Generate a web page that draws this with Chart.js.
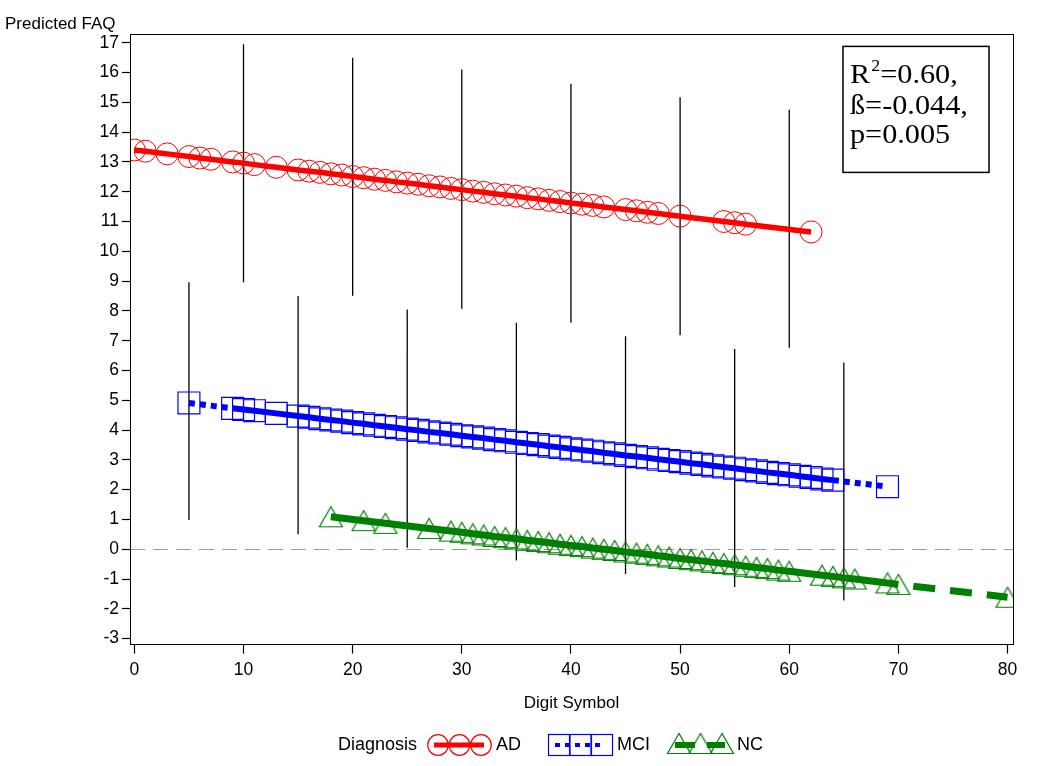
<!DOCTYPE html>
<html>
<head>
<meta charset="utf-8">
<title>Predicted FAQ</title>
<script src="https://cdn.jsdelivr.net/npm/chart.js@4.4.0/dist/chart.umd.min.js"></script>
<style>
  html, body { margin: 0; padding: 0; background: #fff; }
</style>
</head>
<body>
<canvas id="grafico" width="1050" height="766"></canvas>
<script>
// ticks
const ejeX = [0, 10, 20, 30, 40, 50, 60, 70, 80];
const ejeY = [-3, -2, -1, 0, 1, 2, 3, 4, 5, 6, 7, 8, 9, 10, 11, 12, 13, 14, 15, 16, 17];

// AD
const adX = [0, 1, 3, 5, 6, 7, 9, 10, 11, 13, 15, 16, 17, 18, 19, 20, 21, 22, 23, 24, 25, 26, 27, 28, 29, 30,
  31, 32, 33, 34, 35, 36, 37, 38, 39, 40, 41, 42, 43, 45, 46, 47, 48, 50, 54, 55, 56, 62];
const adY = [13.40, 13.36, 13.27, 13.18, 13.13, 13.09, 13.00, 12.96, 12.91, 12.82, 12.73, 12.69, 12.65, 12.60,
  12.56, 12.51, 12.47, 12.42, 12.38, 12.33, 12.29, 12.25, 12.20, 12.16, 12.11, 12.07, 12.02, 11.98, 11.93,
  11.89, 11.85, 11.80, 11.76, 11.71, 11.67, 11.62, 11.58, 11.54, 11.49, 11.40, 11.36, 11.31, 11.27, 11.18,
  11.00, 10.96, 10.91, 10.65];

// MCI
const mciX = [5, 9, 10, 11, 13, 15, 16, 17, 18, 19, 20, 21, 22, 23, 24, 25, 26, 27, 28, 29, 30, 31, 32, 33,
  34, 35, 36, 37, 38, 39, 40, 41, 42, 43, 44, 45, 46, 47, 48, 49, 50, 51, 52, 53, 54, 55, 56, 57, 58, 59,
  60, 61, 62, 63, 64, 69];
const mciY = [4.91, 4.73, 4.69, 4.65, 4.56, 4.47, 4.43, 4.38, 4.34, 4.30, 4.25, 4.21, 4.16, 4.12, 4.08, 4.03,
  3.99, 3.94, 3.90, 3.86, 3.81, 3.77, 3.73, 3.68, 3.64, 3.59, 3.55, 3.51, 3.46, 3.42, 3.37, 3.33, 3.29, 3.24,
  3.20, 3.15, 3.11, 3.07, 3.02, 2.98, 2.94, 2.89, 2.85, 2.80, 2.76, 2.72, 2.67, 2.63, 2.58, 2.54, 2.50, 2.45,
  2.41, 2.36, 2.32, 2.10];

// NC
const ncX = [18, 21, 23, 27, 29, 30, 31, 32, 33, 34, 35, 36, 37, 38, 39, 40, 41, 42, 43, 44, 45, 46, 47, 48,
  49, 50, 51, 52, 53, 54, 55, 56, 57, 58, 59, 60, 63, 64, 65, 66, 69, 70, 80];
const ncY = [1.09, 0.96, 0.87, 0.70, 0.61, 0.57, 0.52, 0.48, 0.43, 0.39, 0.35, 0.30, 0.26, 0.22, 0.17, 0.13,
  0.09, 0.04, 0.00, -0.04, -0.09, -0.13, -0.17, -0.22, -0.26, -0.31, -0.35, -0.39, -0.44, -0.48, -0.52,
  -0.57, -0.61, -0.65, -0.70, -0.74, -0.87, -0.91, -0.96, -1.00, -1.13, -1.18, -1.61];

// barras verticales
const barraX = [10, 20, 30, 40, 50, 60, 5, 15, 25, 35, 45, 55, 65];
const barraMin = [8.96, 8.51, 8.07, 7.6, 7.18, 6.76, 0.98, 0.5, 0.05, -0.38, -0.83, -1.27, -1.72];
const barraMax = [16.95, 16.5, 16.1, 15.62, 15.17, 14.75, 8.96, 8.5, 8.05, 7.6, 7.15, 6.72, 6.27];

const estadisticos = ["=0.60,", "ß=-0.044,", "p=0.005"];

const ROJO = "#ff0000", AZUL = "#0000ff", VERDE = "#008000";
const letra = '"Liberation Sans", Arial, sans-serif';

function triangulo(color) {
	const c = document.createElement("canvas");
	c.width = 26; c.height = 23;
	const g = c.getContext("2d");
	g.strokeStyle = color;
	g.lineWidth = 1.2;
	g.beginPath();
	g.moveTo(13, 1.5);
	g.lineTo(1.5, 21.5);
	g.lineTo(24.5, 21.5);
	g.closePath();
	g.stroke();
	return c;
}
const trianguloVerde = triangulo(VERDE);

const puntos = (xs, ys) => xs.map((x, i) => ({ x: x, y: ys[i] }));

const barras = [];
barraX.forEach((x, i) => {
	barras.push({ x: x, y: barraMin[i] }, { x: x, y: barraMax[i] }, { x: x, y: null });
});

/* marco, linea del cero, recuadro y leyenda */
const extras = {
	id: "extras",
	beforeDatasetsDraw(chart) {
		const { ctx, chartArea, scales } = chart;
		const y0 = Math.round(scales.y.getPixelForValue(0)) + 0.5;
		ctx.save();
		ctx.strokeStyle = "#9a9a9a";
		ctx.lineWidth = 1;
		ctx.setLineDash([15, 8]);
		ctx.beginPath();
		ctx.moveTo(chartArea.left, y0);
		ctx.lineTo(chartArea.right, y0);
		ctx.stroke();
		ctx.restore();
	},
	afterDraw(chart) {
		const { ctx, chartArea } = chart;
		ctx.save();
		ctx.strokeStyle = "#000";
		ctx.lineWidth = 1;
		ctx.strokeRect(Math.round(chartArea.left) + 0.5, Math.round(chartArea.top) + 0.5,
			Math.round(chartArea.right - chartArea.left), Math.round(chartArea.bottom - chartArea.top));

		// recuadro estadisticos
		const bx = chartArea.right - 170, by = chartArea.top + 12;
		ctx.lineWidth = 1.5;
		ctx.strokeRect(bx, by, 146, 126);
		ctx.fillStyle = "#000";
		ctx.textBaseline = "alphabetic";
		ctx.save();
		ctx.translate(bx + 7, 0);
		ctx.scale(1.12, 1);
		ctx.font = '27px "Liberation Serif", "Times New Roman", serif';
		ctx.fillText("R", 0, by + 37);
		const wR = ctx.measureText("R").width;
		ctx.font = '16px "Liberation Serif", "Times New Roman", serif';
		ctx.fillText("2", wR + 1, by + 25);
		const w2 = ctx.measureText("2").width;
		ctx.font = '27px "Liberation Serif", "Times New Roman", serif';
		ctx.fillText(estadisticos[0], wR + w2 + 1, by + 37);
		ctx.fillText(estadisticos[1], 0, by + 68);
		ctx.fillText(estadisticos[2], 0, by + 97);
		ctx.restore();

		// leyenda
		const ly = 745;
		ctx.font = "18px " + letra;
		ctx.textBaseline = "middle";
		ctx.fillText("Diagnosis", 338, ly);
		const series = [
			{ x: 438, color: ROJO, ancho: 5, guion: [], marca: "circulo", texto: "AD" },
			{ x: 559, color: AZUL, ancho: 4, guion: [5, 5], marca: "cuadro", texto: "MCI" },
			{ x: 679, color: VERDE, ancho: 6, guion: [20, 12], marca: "triangulo", texto: "NC" }
		];
		series.forEach((s) => {
			ctx.save();
			ctx.strokeStyle = s.color;
			ctx.lineWidth = s.ancho;
			ctx.setLineDash(s.guion);
			ctx.beginPath();
			ctx.moveTo(s.x - 4, ly);
			ctx.lineTo(s.x + 46, ly);
			ctx.stroke();
			ctx.setLineDash([]);
			ctx.lineWidth = 1.2;
			for (let k = 0; k < 3; k++) {
				const cx = s.x + k * 21.5;
				ctx.beginPath();
				if (s.marca === "circulo") {
					ctx.arc(cx, ly, 10.3, 0, Math.PI * 2);
					ctx.stroke();
				} else if (s.marca === "cuadro") {
					ctx.strokeRect(cx - 10.5, ly - 10.5, 21, 21);
				} else {
					ctx.drawImage(trianguloVerde, cx - 13, ly - 13);
				}
			}
			ctx.restore();
			ctx.fillStyle = "#000";
			ctx.fillText(s.texto, s.x + 58, ly);
		});
		ctx.restore();
	}
};

const ctx = document.getElementById("grafico").getContext("2d");

new Chart(ctx, {
	type: "line",
	data: {
		datasets: [
			{
				label: "AD",
				data: puntos(adX, adY),
				borderColor: ROJO,
				borderWidth: 5.5,
				pointStyle: "circle",
				pointRadius: 11,
				pointBorderWidth: 1,
				pointBorderColor: ROJO,
				pointBackgroundColor: "rgba(0,0,0,0)",
				tension: 0,
				order: 1,
			},
			{
				label: "MCI",
				data: puntos(mciX, mciY),
				borderColor: AZUL,
				borderWidth: 6,
				segment: {
					borderDash: (c) => (c.p1.parsed.x - c.p0.parsed.x > 3 ? [6, 5] : undefined),
				},
				pointStyle: "rect",
				pointRadius: 15.5,
				pointBorderWidth: 1.2,
				pointBorderColor: AZUL,
				pointBackgroundColor: "rgba(0,0,0,0)",
				tension: 0,
				order: 1,
			},
			{
				label: "NC",
				data: puntos(ncX, ncY),
				borderColor: VERDE,
				borderWidth: 7,
				segment: {
					borderDash: (c) => (c.p1.parsed.x - c.p0.parsed.x > 5 ? [22, 15] : undefined),
					borderDashOffset: (c) => (c.p1.parsed.x - c.p0.parsed.x > 5 ? 22 : undefined),
				},
				pointStyle: trianguloVerde,
				pointRadius: 12,
				tension: 0,
				order: 1,
			},
			{
				label: "barras",
				data: barras,
				borderColor: "#000",
				borderWidth: 1.3,
				pointRadius: 0,
				spanGaps: false,
				order: 5,
			},
		],
	},
	options: {
		responsive: false,
		animation: false,
		events: [],
		layout: { padding: { left: 5, right: 37, top: 0, bottom: 52 } },
		plugins: {
			legend: { display: false },
			tooltip: { enabled: false },
			title: {
				display: true,
				text: "Predicted FAQ",
				align: "start",
				color: "#000",
				font: { family: letra, size: 17, weight: "normal" },
				padding: { top: 14, bottom: 0 },
			},
		},
		scales: {
			x: {
				type: "linear",
				min: -0.4,
				max: 80.5,
				afterBuildTicks: (s) => { s.ticks = ejeX.map((v) => ({ value: v })); },
				ticks: { color: "#000", font: { family: letra, size: 17.5 }, padding: 6, maxRotation: 0, autoSkip: false },
				grid: { drawOnChartArea: false, tickLength: 9, tickColor: "#000", tickWidth: 1.2 },
				border: { color: "#000", width: 1 },
				title: {
					display: true,
					text: "Digit Symbol",
					color: "#000",
					font: { family: letra, size: 17 },
					padding: { top: 7, bottom: 0 },
				},
			},
			y: {
				type: "linear",
				min: -3.2,
				max: 17.28,
				afterBuildTicks: (s) => { s.ticks = ejeY.map((v) => ({ value: v })); },
				afterFit: (s) => { s.width = 125; },
				ticks: { color: "#000", font: { family: letra, size: 17.5 }, padding: 3, autoSkip: false },
				grid: { drawOnChartArea: false, tickLength: 8, tickColor: "#000", tickWidth: 1.2 },
				border: { color: "#000", width: 1 },
			},
		},
	},
	plugins: [extras],
});
</script>
</body>
</html>
